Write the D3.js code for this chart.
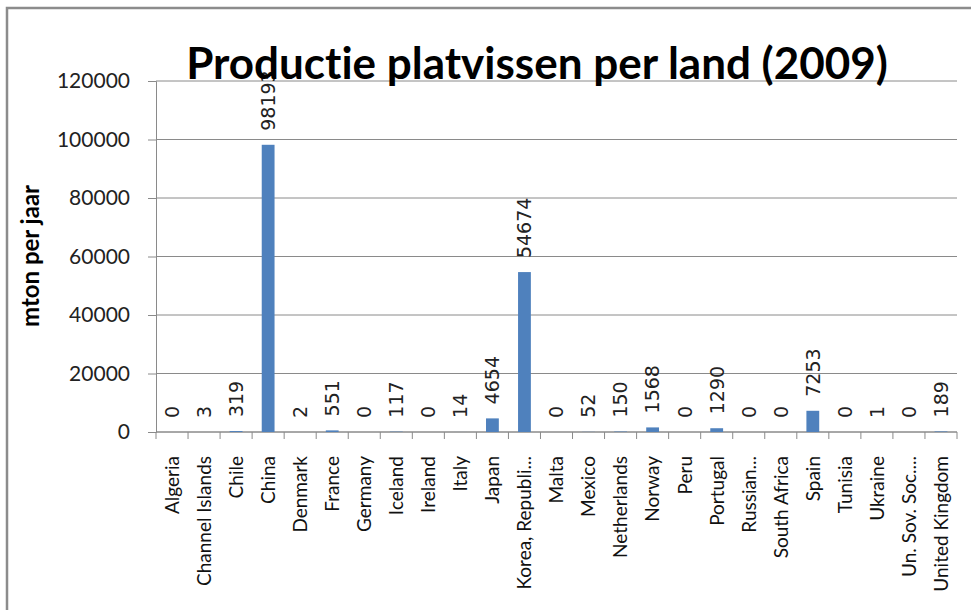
<!DOCTYPE html>
<html>
<head>
  <meta charset="utf-8">
  <script src="https://d3js.org/d3.v7.min.js"></script>
  <style>
    body { margin: 0; background: #fff; }
    text { font-family: Lato, "Open Sans", sans-serif; font-variant-ligatures: none; }
  </style>
</head>
<body>
<script>
  // data
  var countries = ["Algeria", "Channel Islands", "Chile", "China", "Denmark", "France",
    "Germany", "Iceland", "Ireland", "Italy", "Japan", "Korea, Republi...", "Malta",
    "Mexico", "Netherlands", "Norway", "Peru", "Portugal", "Russian...", "South Africa",
    "Spain", "Tunisia", "Ukraine", "Un. Sov. Soc....", "United Kingdom"];
  var production = [0, 3, 319, 98193, 2, 551, 0, 117, 0, 14, 4654, 54674, 0,
    52, 150, 1568, 0, 1290, 0, 0, 7253, 0, 1, 0, 189];
  var yTicks = [0, 20000, 40000, 60000, 80000, 100000, 120000];

  var width = 971, height = 610;
  var plotLeft = 156, plotRight = 957, plotTop = 81, plotBottom = 432;

  var svg = d3.select("body").append("svg")
      .attr("width", width)
      .attr("height", height);

  // chart frame (only top and left edges visible)
  svg.append("path")
      .attr("d", "M7,610 V8 H971")
      .attr("fill", "none")
      .attr("stroke", "#8c8c8c")
      .attr("stroke-width", 2.5);

  var x = d3.scaleBand()
      .domain(countries)
      .range([plotLeft, plotRight])
      .paddingInner(0.6)
      .paddingOuter(0.3);

  var y = d3.scaleLinear()
      .domain([0, 120000])
      .range([plotBottom, plotTop]);

  // gridlines
  svg.append("g")
    .selectAll("line")
    .data(yTicks)
    .enter().append("line")
      .attr("x1", plotLeft)
      .attr("x2", plotRight)
      .attr("y1", function (d) { return y(d); })
      .attr("y2", function (d) { return y(d); })
      .attr("stroke", "#8a8a8a")
      .attr("stroke-width", 1);

  // y axis
  var yAxis = svg.append("g")
      .attr("transform", "translate(" + plotLeft + ",0)")
      .call(d3.axisLeft(y).tickValues(yTicks).tickSize(8).tickPadding(18)
        .tickFormat(d3.format("d")));
  yAxis.select(".domain").attr("stroke", "#8a8a8a");
  yAxis.selectAll(".tick line").attr("stroke", "#8a8a8a");
  yAxis.selectAll(".tick text")
      .style("font-size", "21px")
      .style("font-family", "Lato, sans-serif")
      .attr("fill", "#222");

  // x axis: ticks between categories
  var bounds = d3.range(countries.length + 1).map(function (i) {
    return plotLeft + i * (plotRight - plotLeft) / countries.length;
  });
  svg.append("g")
    .selectAll("line")
    .data(bounds)
    .enter().append("line")
      .attr("x1", function (d) { return d; })
      .attr("x2", function (d) { return d; })
      .attr("y1", plotBottom)
      .attr("y2", plotBottom + 7)
      .attr("stroke", "#8a8a8a");
  svg.append("line")
      .attr("x1", plotLeft).attr("x2", plotRight)
      .attr("y1", plotBottom).attr("y2", plotBottom)
      .attr("stroke", "#8a8a8a");

  // category labels
  svg.append("g")
    .selectAll("text")
    .data(countries)
    .enter().append("text")
      .attr("transform", function (d) {
        return "translate(" + (x(d) + x.bandwidth() / 2) + ",456) rotate(-90)";
      })
      .attr("text-anchor", "end")
      .attr("dy", "0.36em")
      .style("font-size", "19px")
      .attr("fill", "#111")
      .text(function (d) { return d; });

  // bars
  svg.append("g")
    .selectAll("rect")
    .data(production)
    .enter().append("rect")
      .attr("x", function (d, i) { return x(countries[i]); })
      .attr("y", function (d) { return y(d); })
      .attr("width", x.bandwidth())
      .attr("height", function (d) { return y(0) - y(d); })
      .attr("fill", "#4f81bd");

  // value labels
  svg.append("g")
    .selectAll("text")
    .data(production)
    .enter().append("text")
      .attr("transform", function (d, i) {
        return "translate(" + (x(countries[i]) + x.bandwidth() / 2) + "," + (y(d) - 14) + ") rotate(-90)";
      })
      .attr("dy", "0.36em")
      .style("font-family", "'DejaVu Sans', sans-serif")
      .style("font-size", "19px")
      .attr("fill", "#222")
      .text(function (d) { return d; });

  // title
  svg.append("text")
      .attr("x", 537)
      .attr("y", 79)
      .attr("text-anchor", "middle")
      .style("font-size", "44px")
      .style("font-weight", "bold")
      .attr("fill", "#000")
      .text("Productie platvissen per land (2009)");

  // y axis title
  svg.append("text")
      .attr("transform", "translate(30,256) rotate(-90)")
      .attr("text-anchor", "middle")
      .attr("dy", "0.36em")
      .style("font-size", "24px")
      .style("font-weight", "bold")
      .attr("fill", "#000")
      .text("mton per jaar");
</script>
</body>
</html>
